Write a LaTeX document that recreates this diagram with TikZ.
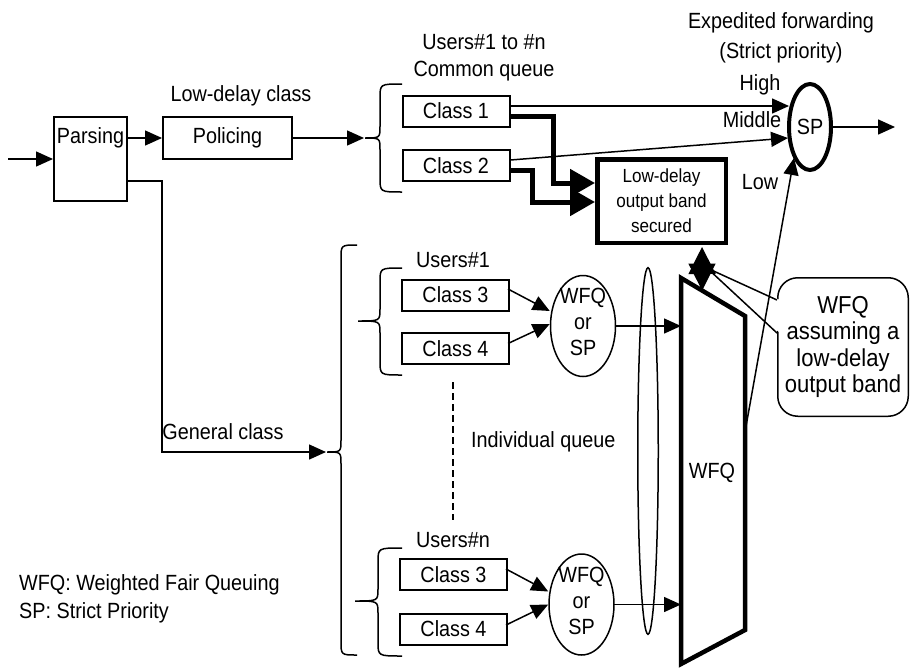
\documentclass[tikz,border=0pt]{standalone}
\usepackage{fontspec}
\setmainfont{Liberation Sans}[FakeStretch=0.9]
\usetikzlibrary{arrows.meta,shapes.geometric,calc}
\newcommand\mybrace[6]{% xr xm xt yt ym yb
  \draw[thinln] (#1,#4) .. controls (#2,#4) .. (#2,#4+14) -- (#2,#5-12)
    .. controls (#2,#5) .. (#3,#5) .. controls (#2,#5) .. (#2,#5+12)
    -- (#2,#6-14) .. controls (#2,#6) .. (#1,#6);}
\begin{document}
\begin{tikzpicture}[x=1pt,y=-1pt,
  font=\fontsize{22}{26}\selectfont,
  every node/.style={inner sep=0pt},
  thinln/.style={line width=1.5pt},
  box/.style={draw,line width=2pt},
  cls/.style={box,minimum width=107pt,minimum height=31pt},
  tri/.style={thinln,-{Triangle[length=17pt,width=15pt]}},
  bigtri/.style={line width=5pt,line join=miter,-{Triangle[length=25pt,width=27pt]}},
  wfqell/.style={draw,ellipse,thinln,minimum width=65pt,minimum height=101pt}
]
\useasboundingbox (0,0) rectangle (910,669);

% ---------- left part
\node[box,minimum width=73pt,minimum height=84pt] (parse) at (90.5,159) {};
\node (parseT) at (90.5,138) {Parsing};
\coordinate (in) at (8,159);
\draw[tri] (in) -- (parse.west);
\node[box,minimum width=129pt,minimum height=42pt] (pol) at (227.5,138) {Policing};
\node (ldc) at (241,96) {Low-delay class};
\draw[tri] (parseT.east -| parse.east) -- (pol.west);

% small top brace
\mybrace{402}{380}{365}{84}{138}{192}
\coordinate (b0) at (364,138);
\draw[tri] (pol.east) -- (b0);

\node[align=center] (users) at (484,58) {Users\#1 to \#n\\[1pt]Common queue};
\node[cls] (c1) at (456,111) {Class 1};
\node[cls] (c2) at (456,165.5) {Class 2};

% low-delay band box
\node[draw,line width=4.5pt,minimum width=128.5pt,minimum height=83.5pt,align=center,
      font=\fontsize{19}{25}\selectfont] (ld) at (661.5,201) {Low-delay\\output band\\secured};

% SP
\node[draw,ellipse,line width=4pt,minimum width=42pt,minimum height=86pt] (sp) at (810,127) {SP};
\node[align=center] (ef) at (781,38) {Expedited forwarding\\[4pt](Strict priority)};
\node (hi) at (760,85) {High};
\node (mid) at (752,120) {Middle};
\node (lo) at (760,182) {Low};
\coordinate (out) at (895,127);
\draw[tri] (sp.east) -- (out);

\draw[tri] ($(c1.east)+(0,-5)$) -- ($(sp.center)+(-21,-21)$);
\draw[tri] ($(c2.east)+(0,-5.5)$) -- ($(sp.center)+(-22,11)$);

% thick connectors
\draw[bigtri] ($(c1.east)+(0,5)$) -| ($(ld.west)+(-42,-18)$) -- ($(ld.west)+(0,-18)$);
\draw[bigtri] ($(c2.east)+(0,4.5)$) -| ($(ld.west)+(-63,1)$) -- ($(ld.west)+(0,1)$);

% ---------- general class
\mybrace{357}{341}{327}{245}{452}{655}
\coordinate (bg) at (326,452);
\coordinate (gk) at (162,452);
\draw[tri] ($(parse.east)+(0,22)$) -| (gk) -- (bg);
\node (gc) at (223,432) {General class};

% users#1
\node (u1) at (453,260) {Users\#1};
\mybrace{402}{380}{358}{268}{321}{375}
\node[cls] (c3a) at (455.5,295) {Class 3};
\node[cls] (c4a) at (455.5,348.5) {Class 4};
\node[wfqell] (e1) at (583,326) {};
\node[align=center] (e1t) at (583,322) {WFQ\\or\\SP};
\draw[tri] ($(c3a.east)+(-2,-6)$) -- ($(e1.west)+(0,-15)$);
\draw[tri] ($(c4a.east)+(-2,-5)$) -- ($(e1.west)+(0,-2)$);

% dashed
\coordinate (d1) at (453,382);
\coordinate (d2) at (453,520);
\draw[thinln,dash pattern=on 7pt off 4pt] (d1) -- (d2);
\node[anchor=west] (iq) at (471,442) {Individual queue};

% users#n
\node (un) at (453,540) {Users\#n};
\mybrace{402}{378}{355}{548}{601}{656}
\node[cls] (c3b) at (453.5,574.5) {Class 3};
\node[cls] (c4b) at (453.5,629) {Class 4};
\node[wfqell] (e2) at (581.5,604.5) {};
\node[align=center] (e2t) at (581.5,600.5) {WFQ\\or\\SP};
\draw[tri] ($(c3b.east)+(-2,-5.5)$) -- ($(e2.west)+(0,-13)$);
\draw[tri] ($(c4b.east)+(-2,-4)$) -- ($(e2.west)+(0,0)$);

% legend
\node[anchor=west] (lg1) at (19,585) {WFQ: Weighted Fair Queuing};
\node[anchor=west] (lg2) at (19,613) {SP: Strict Priority};

% ---------- WFQ stage
\node[draw,ellipse,thinln,minimum width=20.5pt,minimum height=366.5pt] (loop) at (648,451) {};
\coordinate (tTL) at (681,278);
\coordinate (tTR) at (745,316);
\coordinate (tBR) at (745,630);
\coordinate (tBL) at (681,664);
\draw[tri] (e1.east) -- (e1.east -| tTL);
\draw[tri] (e2.east) -- (e2.east -| tTL);
\draw[line width=4.5pt,line join=miter] (tTL) -- (tTR) -- (tBR) -- (tBL) -- cycle;
\node (wfqT) at (712,473) {WFQ};

% callout
\node[draw,thinln,rounded corners=20pt,fill=white,minimum width=130.5pt,minimum height=138.5pt,
      align=center,font=\fontsize{24.5}{26.5}\selectfont] (co) at (843,347) {WFQ\\assuming a\\low-delay\\output band};
\coordinate (ptip) at (707,268);
\fill[white] (ptip) -- ($(co.west)+(3,-47)$) -- ($(co.west)+(3,-14)$) -- cycle;
\draw[thinln,line join=miter] ($(co.west)+(0,-47)$) -- (ptip) -- ($(co.west)+(0,-14)$);

% star (double arrow between band box and WFQ)
\coordinate (sTop) at ($(ld.south west)+(107,2)$);
\coordinate (sBot) at ($(tTL)!0.33!(tTR)$);
\draw[thinln,{Triangle[length=27pt,width=27pt]}-{Triangle[length=27pt,width=27pt]}] (sTop) -- (sBot);

% low line
\coordinate (lowS) at (745,432);
\draw[tri] (lowS) -- ($(sp.center)+(-16,31)$);
\end{tikzpicture}
\end{document}
